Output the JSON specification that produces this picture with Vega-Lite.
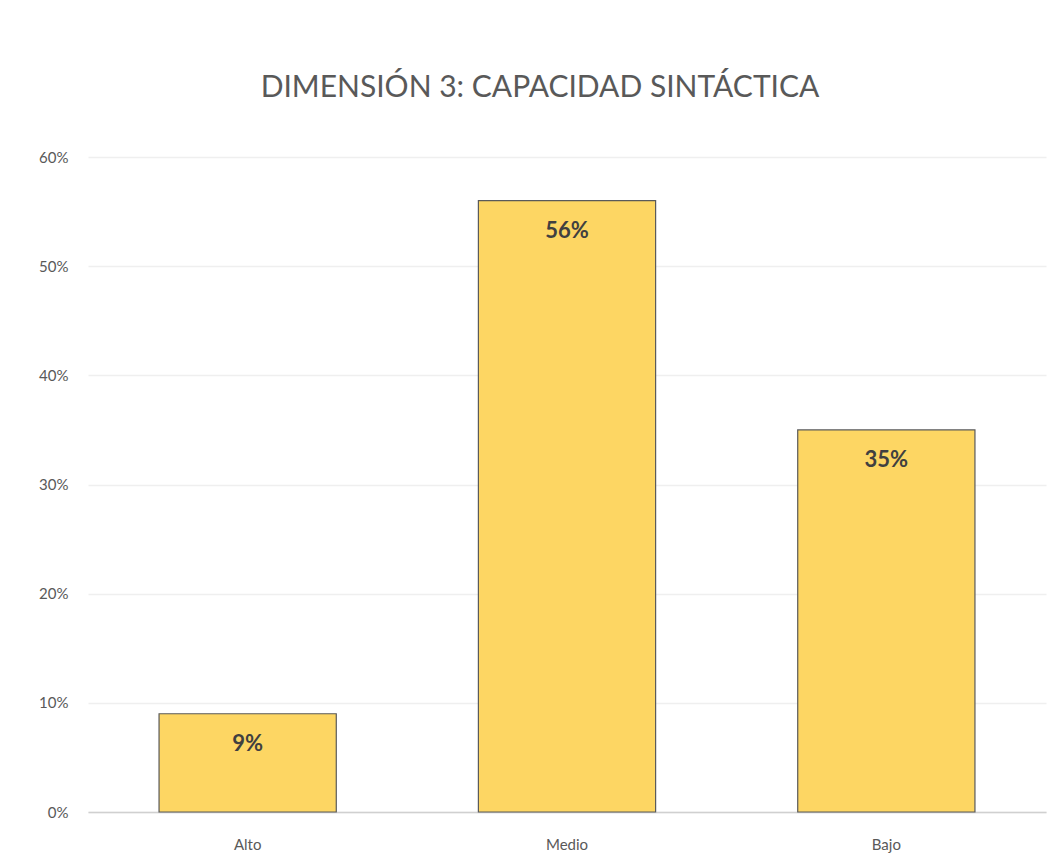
{
  "$schema": "https://vega.github.io/schema/vega-lite/v6.json",
  "width": 958,
  "height": 655,
  "autosize": {"type": "none"},
  "padding": {"left": 88, "top": 157, "right": 8, "bottom": 53},
  "background": "white",
  "title": {
    "text": "DIMENSIÓN 3: CAPACIDAD SINTÁCTICA",
    "font": "Lato",
    "fontSize": 30,
    "fontWeight": "normal",
    "color": "#595959",
    "anchor": "middle",
    "dx": -27,
    "baseline": "alphabetic",
    "offset": 23
  },
  "data": {
    "values": [
      {"nivel": "Alto", "pct": 0.09},
      {"nivel": "Medio", "pct": 0.56},
      {"nivel": "Bajo", "pct": 0.35}
    ]
  },
  "encoding": {
    "x": {
      "field": "nivel",
      "type": "nominal",
      "sort": null,
      "scale": {"paddingInner": 0.445, "paddingOuter": 0.2225},
      "axis": {
        "title": null,
        "labelAngle": 0,
        "labelFont": "Lato",
        "labelFontSize": 15,
        "labelColor": "#595959",
        "labelPadding": 25,
        "ticks": false,
        "domainColor": "#D0D0D0",
        "domainWidth": 1.5,
        "grid": false
      }
    },
    "y": {
      "field": "pct",
      "type": "quantitative",
      "scale": {"domain": [0, 0.6]},
      "axis": {
        "title": null,
        "format": ".0%",
        "values": [0, 0.1, 0.2, 0.3, 0.4, 0.5, 0.6],
        "labelFont": "Lato",
        "labelFontSize": 15,
        "labelColor": "#595959",
        "labelPadding": 20,
        "ticks": false,
        "domain": false,
        "gridColor": "#EFEFEF",
        "gridWidth": 1.5
      }
    }
  },
  "layer": [
    {
      "mark": {"type": "bar", "color": "#FDD663", "stroke": "#5A5A5A", "strokeWidth": 1.2}
    },
    {
      "mark": {
        "type": "text",
        "baseline": "top",
        "dy": 20,
        "font": "Lato",
        "fontSize": 22,
        "fontWeight": "bold",
        "color": "#404040"
      },
      "encoding": {
        "text": {"field": "pct", "type": "quantitative", "format": ".0%"}
      }
    }
  ],
  "config": {"view": {"stroke": null}}
}
